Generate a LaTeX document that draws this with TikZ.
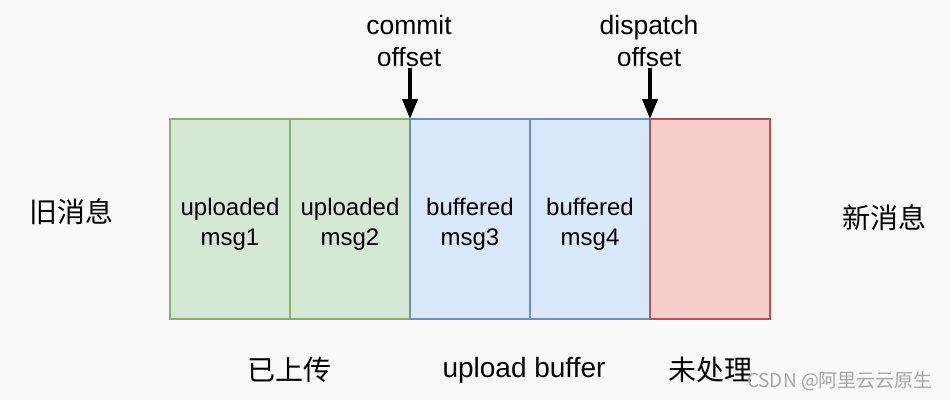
\documentclass[tikz,border=0pt]{standalone}
\usepackage{fontspec}
\setmainfont{Liberation Sans}
\newfontfamily\cjk{Noto Sans CJK SC}
\usetikzlibrary{positioning,arrows.meta}
\definecolor{UpFill}{RGB}{213,232,212}
\definecolor{UpLine}{RGB}{130,179,102}
\definecolor{BufFill}{RGB}{218,232,252}
\definecolor{BufLine}{RGB}{108,142,191}
\definecolor{NewFill}{RGB}{248,206,204}
\definecolor{NewLine}{RGB}{184,84,80}
\definecolor{PaperGray}{RGB}{249,249,249}

\begin{document}
\begin{tikzpicture}[x=1pt,y=-1pt,
    msg/.style={draw,line width=1.3pt,minimum width=120pt,minimum height=200pt,outer sep=0pt},
    msgtext/.style={align=center,font=\fontsize{24}{30}\selectfont},
    uploaded/.style={msg,fill=UpFill,draw=UpLine},
    buffered/.style={msg,fill=BufFill,draw=BufLine},
    pending/.style={msg,fill=NewFill,draw=NewLine},
    offsetlabel/.style={align=center,inner sep=1pt,font=\fontsize{26.5}{32}\selectfont},
    cnlabel/.style={font=\cjk\fontsize{28}{32}\selectfont},
    pointer/.style={line width=3.5pt,-{Triangle[width=15pt,length=20pt]}}]
    \fill[PaperGray] (0,0) rectangle (950,400);
    \useasboundingbox (0,0) rectangle (950,400);

    % message queue
    \node[uploaded] (m1) at (230,219) {};
    \node[uploaded,right=0pt of m1] (m2) {};
    \node[buffered,right=0pt of m2] (m3) {};
    \node[buffered,right=0pt of m3] (m4) {};
    \node[pending,right=0pt of m4] (m5) {};
    \node[msgtext] (t1) at ([yshift=-5pt]m1) {uploaded\\msg1};
    \node[msgtext] (t2) at ([yshift=-5pt]m2) {uploaded\\msg2};
    \node[msgtext] (t3) at ([yshift=-5pt]m3) {buffered\\msg3};
    \node[msgtext] (t4) at ([yshift=-5pt]m4) {buffered\\msg4};

    % offsets
    \node[offsetlabel] (commit) at (409,41.5) {commit\\offset};
    \node[offsetlabel] (dispatch) at (649,41.5) {dispatch\\offset};
    \draw[pointer] (commit.south -| m3.north west) -- (m3.north west);
    \draw[pointer] (dispatch.south -| m5.north west) -- (m5.north west);

    \node[cnlabel] (old) at (71,212) {旧消息};
    \node[cnlabel] (new) at (884,218) {新消息};
    \node[cnlabel] (done) at (289,370) {已上传};
    \node[font=\fontsize{28}{32}\selectfont] (buf) at (524,370) {upload buffer};
    \node[cnlabel] (todo) at (710,370) {未处理};

    \node[text=black!35,font=\cjk\fontsize{19}{23}\selectfont] (mark) at (840,381) {CSDN @阿里云云原生};
\end{tikzpicture}
\end{document}
